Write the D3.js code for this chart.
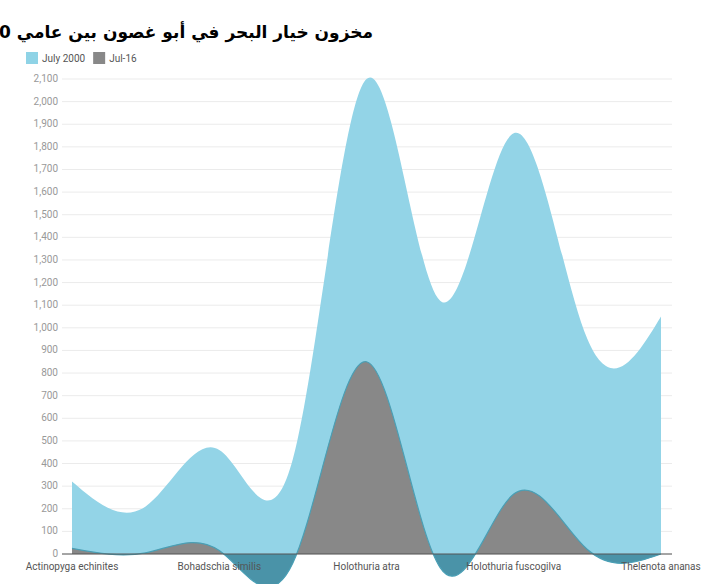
<!DOCTYPE html>
<html><head><meta charset="utf-8">
<script src="https://cdn.jsdelivr.net/npm/d3@7"></script>
<style>body{margin:0;background:#fff;font-family:Roboto,sans-serif}</style>
</head><body><div id="chart"></div>
<script>
const categories = ["Actinopyga echinites", "Actinopyga mauritiana", "Bohadschia similis", "Bohadschia vitiensis",
  "Holothuria atra", "Holothuria edulis", "Holothuria fuscogilva", "Stichopus hermanni", "Thelenota ananas"];
const july2000 = [320, 210, 460, 420, 2100, 1120, 1860, 950, 1050];
const jul16 = [25, 5, 15, -40, 850, -60, 265, 20, 0];
const yTicks = d3.range(0, 2101, 100);

const W = 720, H = 584;
const svg = d3.select("#chart").append("svg").attr("width", W).attr("height", H);
const x = d3.scalePoint().domain(categories).range([72, 661]);
const y = d3.scaleLinear().domain([0, 2100]).range([554, 79]);

svg.append("text").attr("x", 373).attr("y", 38).attr("text-anchor", "start")
  .attr("font-size", 17).attr("font-weight", "bold").attr("font-family", "DejaVu Sans, sans-serif")
  .attr("direction", "rtl").text("مخزون خيار البحر في أبو غصون بين عامي 2000 و2016");

const legend = [["July 2000", "#8fd3e6"], ["Jul-16", "#888"]];
let lx = 26;
legend.forEach(([t, c]) => {
  svg.append("rect").attr("x", lx).attr("y", 52).attr("width", 12).attr("height", 12).attr("fill", c);
  const tx = svg.append("text").attr("x", lx + 16).attr("y", 62).attr("font-size", 10).attr("fill", "#555").text(t);
  lx += 16 + tx.node().getComputedTextLength() + 8;
});

svg.append("g").selectAll("line").data(yTicks).join("line")
  .attr("x1", 62).attr("x2", 672).attr("y1", d => y(d)).attr("y2", d => y(d))
  .attr("stroke", "#ebebeb");
svg.append("g").selectAll("text").data(yTicks).join("text")
  .attr("x", 58).attr("y", d => y(d) + 3).attr("text-anchor", "end")
  .attr("font-size", 10).attr("fill", "#999").text(d3.format(","));

const defs = svg.append("defs");
defs.append("clipPath").attr("id", "above").append("rect").attr("x", 0).attr("y", 0).attr("width", W).attr("height", y(0));
defs.append("clipPath").attr("id", "below").append("rect").attr("x", 0).attr("y", y(0)).attr("width", W).attr("height", H);

const area = d3.area().x((d, i) => x(categories[i])).y0(y(0)).y1(d => y(d)).curve(d3.curveNatural);
const line = d3.line().x((d, i) => x(categories[i])).y(d => y(d)).curve(d3.curveNatural);

svg.append("path").attr("d", area(july2000)).attr("fill", "#93d4e7");
svg.append("path").attr("d", area(jul16)).attr("fill", "#888").attr("clip-path", "url(#above)");
svg.append("path").attr("d", area(jul16)).attr("fill", "#4a93a8").attr("clip-path", "url(#below)");
svg.append("path").attr("d", line(jul16)).attr("fill", "none").attr("stroke", "#4a9fb5").attr("stroke-width", 1.2);

svg.append("line").attr("x1", 62).attr("x2", 672).attr("y1", y(0)).attr("y2", y(0)).attr("stroke", "#555");
svg.append("g").selectAll("text").data(categories.filter((d, i) => i % 2 === 0)).join("text")
  .attr("x", d => x(d)).attr("y", 570).attr("text-anchor", "middle")
  .attr("font-size", 10).attr("fill", "#555").text(d => d);
</script></body></html>
